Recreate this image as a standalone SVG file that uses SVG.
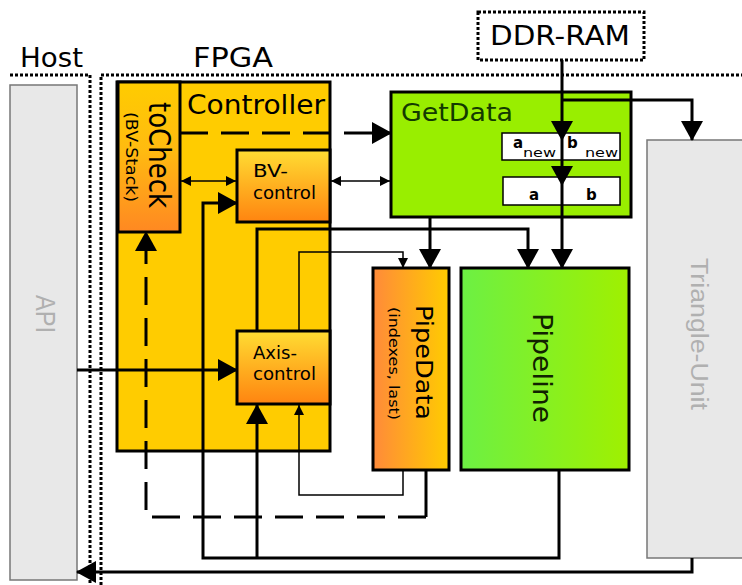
<svg xmlns="http://www.w3.org/2000/svg" width="742" height="585" viewBox="0 0 742 585">
<style>
.t{font-family:"DejaVu Sans","Liberation Sans",sans-serif;fill:#000}
.g{font-family:"Liberation Sans","DejaVu Sans",sans-serif;fill:#b0b0b0}
.box{stroke:#000;stroke-width:3}
.frame{fill:none;stroke:#000;stroke-width:3;stroke-dasharray:3 2}
.gray{fill:#e8e8e8;stroke:#777;stroke-width:1.5}
.w{fill:#fff;stroke:#000;stroke-width:1.5}
.c{fill:none;stroke:#000;stroke-width:3}
.thin{fill:none;stroke:#000;stroke-width:1.5}
.dash{fill:none;stroke:#000;stroke-width:3;stroke-dasharray:28 13}
.big{marker-end:url(#big)}
.sm{marker-end:url(#sm)}
.dbl{marker-start:url(#sm);marker-end:url(#sm)}
</style>
<defs>
<marker id="big" markerUnits="userSpaceOnUse" markerWidth="20" markerHeight="22" refX="19" refY="11" orient="auto"><path d="M0,0 L20,11 L0,22 z" fill="#000"/></marker>
<marker id="sm" markerUnits="userSpaceOnUse" markerWidth="10" markerHeight="10" refX="10" refY="5" orient="auto-start-reverse"><path d="M0,0 L10,5 L0,10 z" fill="#000"/></marker>
<linearGradient id="gTo" x1="0" y1="0" x2="0" y2="1"><stop offset="0" stop-color="#ffcc00"/><stop offset="0.45" stop-color="#ffbb10"/><stop offset="1" stop-color="#ff8822"/></linearGradient>
<linearGradient id="gCtl" x1="0" y1="0" x2="0" y2="1"><stop offset="0" stop-color="#ffdd33"/><stop offset="0.5" stop-color="#ffb020"/><stop offset="1" stop-color="#ff8410"/></linearGradient>
<linearGradient id="gPD" x1="0" y1="0" x2="1" y2="0"><stop offset="0" stop-color="#ff8a3a"/><stop offset="1" stop-color="#ffcc00"/></linearGradient>
<linearGradient id="gPL" x1="0" y1="0" x2="1" y2="0"><stop offset="0" stop-color="#6cf044"/><stop offset="1" stop-color="#a0f000"/></linearGradient>
</defs>
<rect width="742" height="585" fill="#fff"/>

<g id="host">
<path class="frame" d="M10,75 H90 V585"/>
<text class="t" x="20" y="67" font-size="27" textLength="63" lengthAdjust="spacingAndGlyphs">Host</text>
</g>
<g id="fpga">
<path class="frame" d="M101,585 V75 H742"/>
<text class="t" x="193" y="67" font-size="27" textLength="80" lengthAdjust="spacingAndGlyphs">FPGA</text>
</g>
<g id="ddr-ram">
<rect x="478" y="12" width="166" height="48" fill="#fff" stroke="#000" stroke-width="3" stroke-dasharray="3 2"/>
<text class="t" x="490" y="45" font-size="27" textLength="140" lengthAdjust="spacingAndGlyphs">DDR-RAM</text>
</g>
<g id="api">
<rect class="gray" x="10" y="85" width="67" height="495"/>
<text class="g" transform="translate(36,295) rotate(90)" font-size="28" textLength="38" lengthAdjust="spacingAndGlyphs">API</text>
</g>
<g id="triangle-unit">
<rect class="gray" x="647" y="140" width="100" height="418"/>
<text class="g" transform="translate(691,258) rotate(90)" font-size="23" textLength="152" lengthAdjust="spacingAndGlyphs">Triangle-Unit</text>
</g>
<g id="controller">
<rect class="box" x="117" y="82" width="213" height="369" fill="#ffcc00"/>
<text class="t" x="187" y="114" font-size="26" textLength="138" lengthAdjust="spacingAndGlyphs">Controller</text>
</g>
<g id="tocheck">
<rect class="box" x="118" y="82" width="62" height="150" fill="url(#gTo)"/>
<text class="t" transform="translate(149,102) rotate(90)" font-size="30" textLength="106" lengthAdjust="spacingAndGlyphs">toCheck</text>
<text class="t" transform="translate(126,112) rotate(90)" font-size="15" textLength="90" lengthAdjust="spacingAndGlyphs">(BV-Stack)</text>
</g>
<g id="bv-control">
<rect class="box" x="237" y="150" width="93" height="72" fill="url(#gCtl)"/>
<text class="t" x="253" y="177" font-size="18" textLength="35" lengthAdjust="spacingAndGlyphs">BV-</text>
<text class="t" x="253" y="199" font-size="18" textLength="63" lengthAdjust="spacingAndGlyphs">control</text>
</g>
<g id="axis-control">
<rect class="box" x="237" y="331" width="93" height="73" fill="url(#gCtl)"/>
<text class="t" x="253" y="359" font-size="18" textLength="44" lengthAdjust="spacingAndGlyphs">Axis-</text>
<text class="t" x="253" y="380" font-size="18" textLength="63" lengthAdjust="spacingAndGlyphs">control</text>
</g>
<g id="getdata">
<rect class="box" x="391" y="92" width="240" height="125" fill="#99ee00"/>
<text x="401" y="121" font-size="25" textLength="112" lengthAdjust="spacingAndGlyphs" style="font-family:'DejaVu Sans','Liberation Sans',sans-serif;fill:#133a00">GetData</text>
<rect class="w" x="502" y="133" width="118" height="27"/>
<text class="t" x="513" y="148" font-size="15" font-weight="bold">a</text>
<text class="t" x="523" y="157" font-size="12" textLength="33" lengthAdjust="spacingAndGlyphs">new</text>
<text class="t" x="567" y="148" font-size="15" font-weight="bold">b</text>
<text class="t" x="585" y="157" font-size="12" textLength="33" lengthAdjust="spacingAndGlyphs">new</text>
<rect class="w" x="503" y="177" width="117" height="28"/>
<text class="t" x="529" y="200" font-size="15" font-weight="bold">a</text>
<text class="t" x="586" y="200" font-size="15" font-weight="bold">b</text>
</g>
<g id="pipedata">
<rect class="box" x="373" y="268" width="76" height="202" fill="url(#gPD)"/>
<text class="t" transform="translate(416,305) rotate(90)" font-size="23" textLength="115" lengthAdjust="spacingAndGlyphs">PipeData</text>
<text class="t" transform="translate(389,307) rotate(90)" font-size="14" textLength="113" lengthAdjust="spacingAndGlyphs">(indexes, last)</text>
</g>
<g id="pipeline">
<rect class="box" x="461" y="268" width="168" height="202" fill="url(#gPL)"/>
<text transform="translate(533,313) rotate(90)" font-size="26" textLength="110" lengthAdjust="spacingAndGlyphs" style="font-family:'DejaVu Sans','Liberation Sans',sans-serif;fill:#112200">Pipeline</text>
</g>

<g id="connectors">
<path class="dash big" d="M180,133 H391"/>
<path class="thin dbl" d="M181,181 H236"/>
<path class="thin dbl" d="M331,181 H390"/>
<path class="c big" d="M559,470 V558 H203 V203 H237"/>
<path class="c big" d="M257,558 V405"/>
<path class="c big" d="M77,370 H237"/>
<path class="c big" d="M257,331 V229 H528 V268"/>
<path class="c big" d="M430,217 V268"/>
<path class="c big" d="M562,60 V140"/>
<path class="c big" d="M562,140 V185"/>
<path class="c big" d="M562,185 V268"/>
<path class="c big" d="M562,100 H692 V140"/>
<path class="thin sm" d="M299,331 V252 H403 V268"/>
<path class="thin sm" d="M403,470 V495 H299 V405"/>
<path class="c" d="M426,470 V517"/>
<path class="dash big" d="M426,517 H146 V232"/>
<path class="c big" d="M692,558 V572 H77"/>
</g>
</svg>
